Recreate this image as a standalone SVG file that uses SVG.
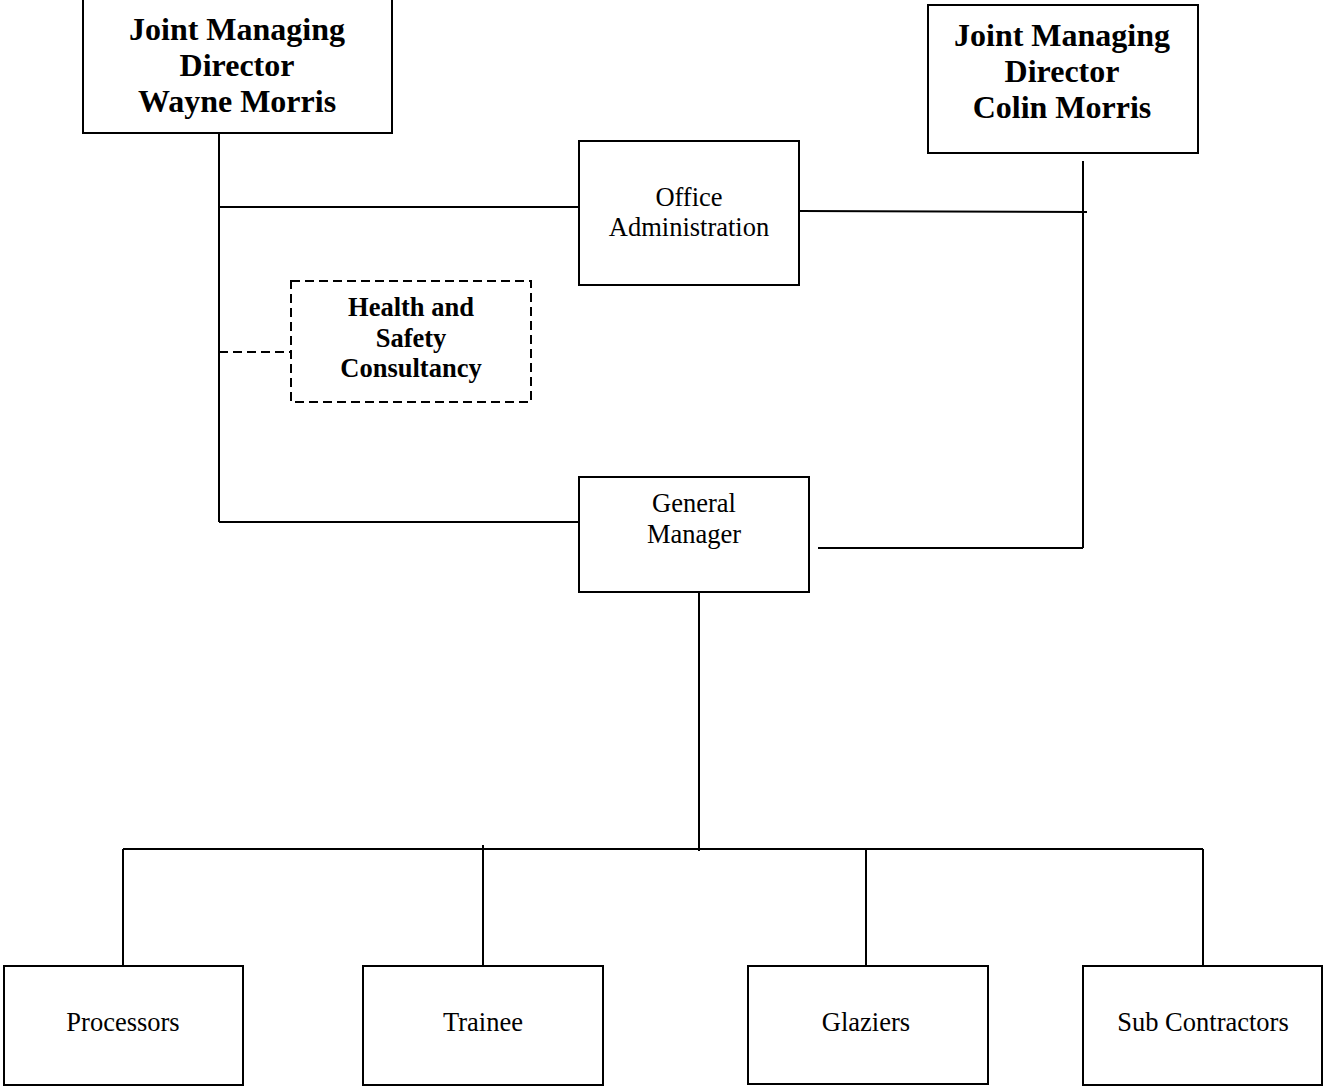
<svg xmlns="http://www.w3.org/2000/svg" width="1325" height="1086" viewBox="0 0 1325 1086">
<style>
.box{fill:#fff;stroke:#000;stroke-width:2}
.dash{fill:#fff;stroke:#000;stroke-width:2;stroke-dasharray:9,5}
.ln{stroke:#000;stroke-width:2;fill:none}
.dl{stroke:#000;stroke-width:2;fill:none;stroke-dasharray:9,5}
.big{font-family:"Liberation Serif","Times New Roman",serif;font-weight:bold;font-size:32px;text-anchor:middle;fill:#000}
.mid{font-family:"Liberation Serif","Times New Roman",serif;font-weight:bold;font-size:26.5px;text-anchor:middle;fill:#000}
.reg{font-family:"Liberation Serif","Times New Roman",serif;font-size:26.5px;text-anchor:middle;fill:#000}
</style>
<rect width="1325" height="1086" fill="#fff"/>
<g id="connectors">
<line class="ln" x1="219" y1="133" x2="219" y2="522"/>
<line class="ln" x1="219" y1="207" x2="579" y2="207"/>
<line class="ln" x1="799" y1="211" x2="1087" y2="212"/>
<line class="ln" x1="1083" y1="161" x2="1083" y2="548"/>
<line class="dl" x1="219" y1="352" x2="291" y2="352"/>
<line class="ln" x1="219" y1="522" x2="579" y2="522"/>
<line class="ln" x1="818" y1="548" x2="1083" y2="548"/>
<line class="ln" x1="699" y1="592" x2="699" y2="851"/>
<line class="ln" x1="123" y1="849" x2="1203" y2="849"/>
<line class="ln" x1="123" y1="849" x2="123" y2="968"/>
<line class="ln" x1="483" y1="845" x2="483" y2="965"/>
<line class="ln" x1="866" y1="849" x2="866" y2="966"/>
<line class="ln" x1="1203" y1="849" x2="1203" y2="968"/>
</g>
<g id="jmd-wayne">
<rect class="box" x="83" y="-2" width="309" height="135"/>
<text class="big" x="237" y="40">Joint Managing</text>
<text class="big" x="237" y="76">Director</text>
<text class="big" x="237" y="112">Wayne Morris</text>
</g>
<g id="jmd-colin">
<rect class="box" x="928" y="5" width="270" height="148"/>
<text class="big" x="1062" y="46">Joint Managing</text>
<text class="big" x="1062" y="82">Director</text>
<text class="big" x="1062" y="118">Colin Morris</text>
</g>
<g id="office-admin">
<rect class="box" x="579" y="141" width="220" height="144"/>
<text class="reg" x="689" y="206">Office</text>
<text class="reg" x="689" y="236">Administration</text>
</g>
<g id="health-safety">
<rect class="dash" x="291" y="281" width="240" height="121"/>
<text class="mid" x="411" y="316">Health and</text>
<text class="mid" x="411" y="347">Safety</text>
<text class="mid" x="411" y="377">Consultancy</text>
</g>
<g id="general-manager">
<rect class="box" x="579" y="477" width="230" height="115"/>
<text class="reg" x="694" y="512">General</text>
<text class="reg" x="694" y="543">Manager</text>
</g>
<g id="processors">
<rect class="box" x="4" y="966" width="239" height="119"/>
<text class="reg" x="123" y="1031">Processors</text>
</g>
<g id="trainee">
<rect class="box" x="363" y="966" width="240" height="119"/>
<text class="reg" x="483" y="1031">Trainee</text>
</g>
<g id="glaziers">
<rect class="box" x="748" y="966" width="240" height="118"/>
<text class="reg" x="866" y="1031">Glaziers</text>
</g>
<g id="sub-contractors">
<rect class="box" x="1083" y="966" width="239" height="119"/>
<text class="reg" x="1203" y="1031">Sub Contractors</text>
</g>
</svg>
